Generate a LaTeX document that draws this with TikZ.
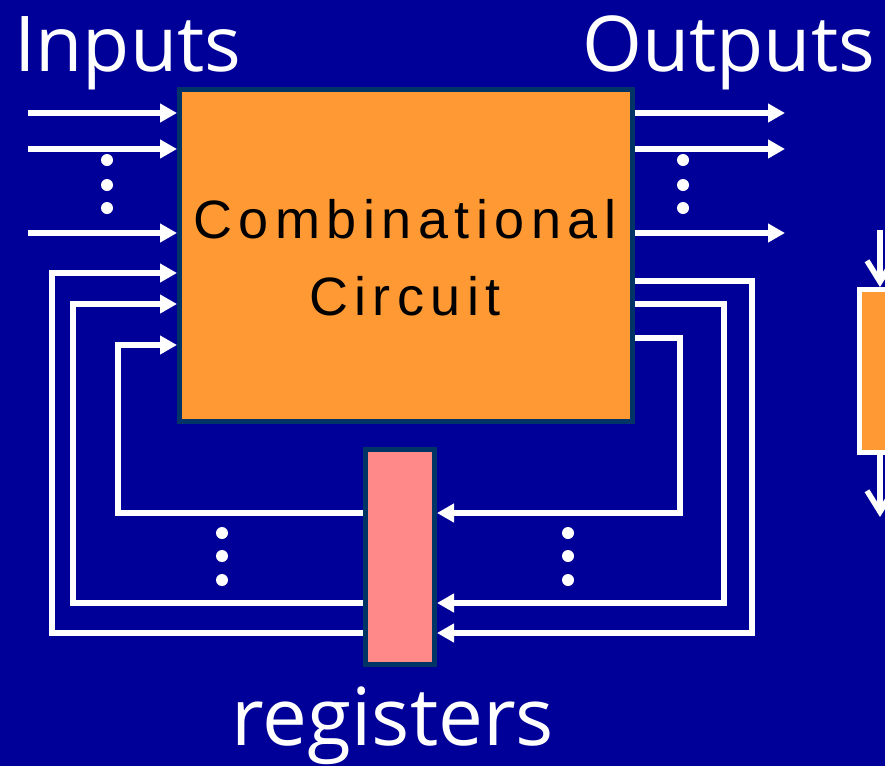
\documentclass[tikz,border=0pt]{standalone}
\usepackage{fontspec}
\usepackage{tikz}
\usetikzlibrary{arrows.meta, positioning, calc}
\setmainfont{Open Sans}
\newfontfamily\boxfont[LetterSpace=12]{Liberation Sans}
\definecolor{slideBlue}{HTML}{000099}
\definecolor{boxOrange}{HTML}{FF9933}
\definecolor{regPink}{HTML}{FF8888}
\definecolor{edgeNavy}{HTML}{003366}

\begin{document}
\begin{tikzpicture}[x=1pt, y=-1pt,
    wire/.style={white, line width=5.5pt},
    inarrow/.style={wire, -{Triangle[length=17pt, width=18pt]}},
    openarrow/.style={wire, -{Straight Barb[length=21pt, width=26pt]}},
    block/.style={draw=edgeNavy, line width=5pt, inner sep=0pt},
    bigtext/.style={text=white, font=\fontsize{77}{80}\selectfont, inner sep=0pt},
    boxtext/.style={text=black, font=\boxfont\fontsize{54}{60}\selectfont, inner sep=0pt, anchor=base}]
    \clip (0,0) rectangle (885,766);
    \fill[slideBlue] (0,0) rectangle (885,766);
    % blocks
    \node[block, fill=boxOrange, minimum width=453pt, minimum height=332pt] (comb) at (406,255.5) {};
    \node[boxtext] (combtop) at (405,238) {Combinational};
    \node[boxtext] (combbot) at (405,315) {Circuit};
    \node[block, fill=regPink, minimum width=69pt, minimum height=215pt] (regs) at (400,557) {};
    % labels
    \node[bigtext, anchor=base west] (inlabel) at (14,71) {Inputs};
    \node[bigtext, anchor=base west] (outlabel) at (582,71) {Outputs};
    \node[bigtext, font=\fontsize{80}{84}\selectfont, anchor=base] (reglabel) at (393,745) {registers};
    % inputs and outputs
    \foreach \y [count=\i] in {113,149,233} {
      \coordinate (in\i) at (28,\y);
      \coordinate (out\i) at (785,\y);
      \draw[inarrow] (in\i) -- (in\i -| comb.west);
      \draw[inarrow] (out\i -| comb.east) -- (out\i);
    }
    % feedback through the registers
    \foreach \xr/\yt/\yb/\xl/\yl [count=\i] in
      {752/281/633/52/273, 724/304/603/73/304, 680/338/513/118/345} {
      \coordinate (ra\i) at (\xr,\yt);
      \coordinate (rb\i) at (\xr,\yb);
      \coordinate (la\i) at (\xl,\yb);
      \coordinate (lb\i) at (\xl,\yl);
      \draw[inarrow] (ra\i -| comb.east) -- (ra\i) -- (rb\i) -- (rb\i -| regs.east);
      \draw[inarrow] (la\i -| regs.west) -- (la\i) -- (lb\i) -- (lb\i -| comb.west);
    }
    % dots
    \foreach \x/\y in {107/160, 107/185, 107/208, 683/160, 683/185, 683/208,
                       222/533, 222/556, 222/580, 568/533, 568/556, 568/580}
      \fill[white] (\x,\y) circle (6pt);
    % next stage, cut off at the edge
    \node[draw=white, line width=5pt, fill=boxOrange, inner sep=0pt,
          minimum width=60pt, minimum height=163pt, anchor=north west] (stage) at (857,287) {};
    \coordinate (stin) at (880,230);
    \coordinate (stout) at (880,517);
    \draw[openarrow] (stin) -- (stin |- stage.north);
    \draw[openarrow] (stin |- stage.south) -- (stout);
  \end{tikzpicture}
\end{document}
